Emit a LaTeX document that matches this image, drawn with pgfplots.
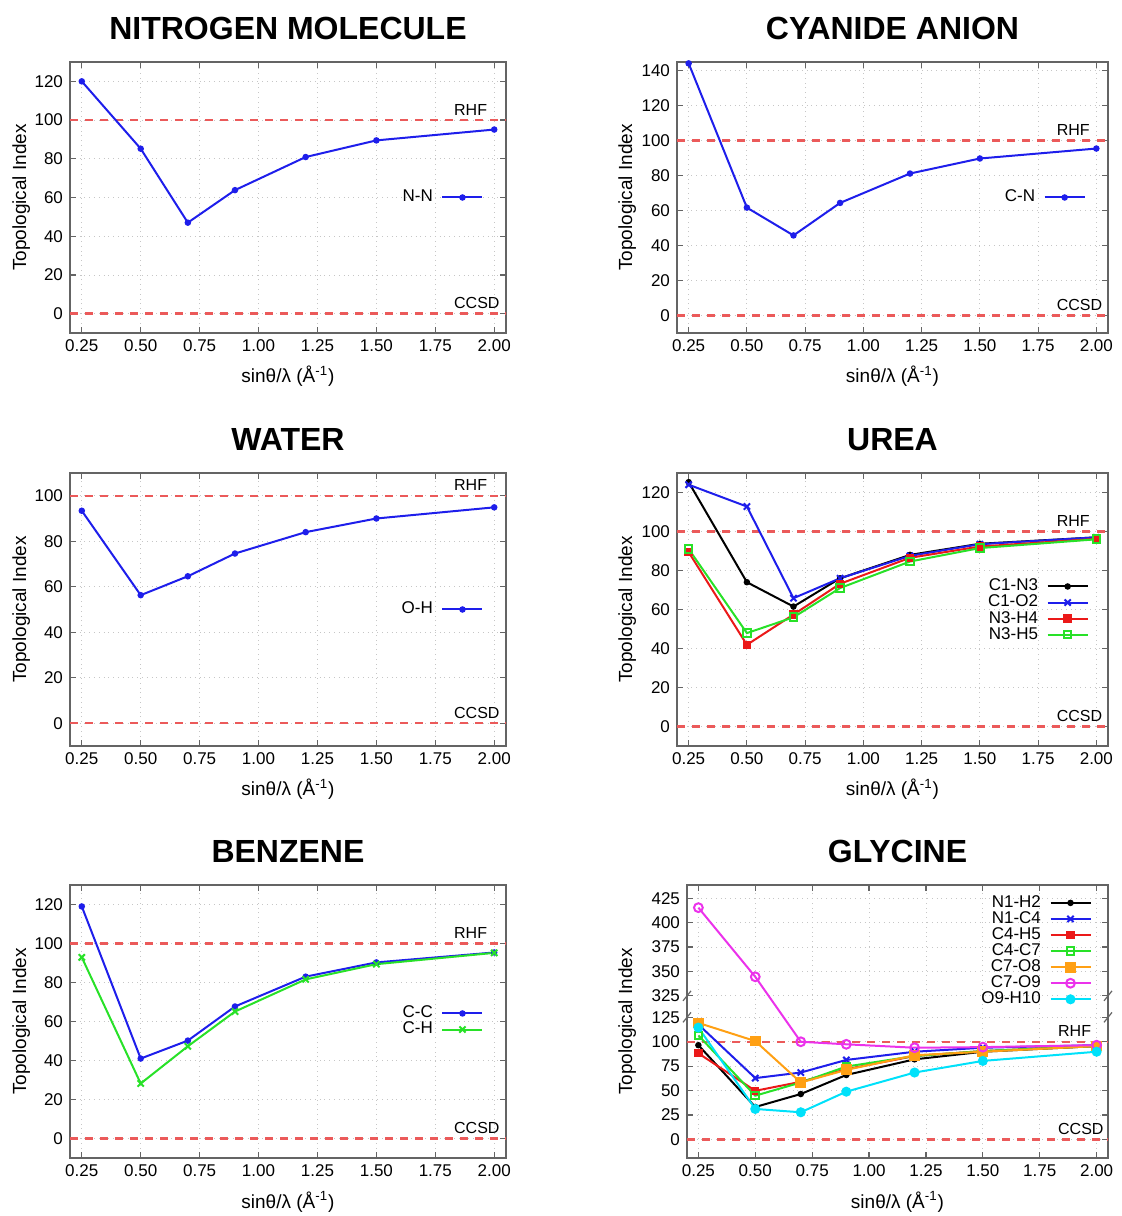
\documentclass[border=0pt]{standalone}
\usepackage{pgfplots}
\pgfplotsset{compat=1.18}
\usepackage{fontspec}
\setmainfont{Liberation Sans}
\usetikzlibrary{calc}
\definecolor{bordercol}{RGB}{100,100,100}
\definecolor{cblue}{RGB}{30,30,235}
\definecolor{cgreen}{RGB}{40,225,40}
\definecolor{cred}{RGB}{235,25,25}
\definecolor{corange}{RGB}{255,160,20}
\definecolor{cmag}{RGB}{235,50,235}
\definecolor{ccyan}{RGB}{0,225,250}
\definecolor{refred}{RGB}{235,90,90}
\pgfplotsset{
  panel/.style={
    scale only axis, anchor=south west, clip=false,
    xmin=0.2, xmax=2.05,
    xtick={0.25,0.5,0.75,1,1.25,1.5,1.75,2},
    xticklabels={0.25,0.50,0.75,1.00,1.25,1.50,1.75,2.00},
    tick align=inside, major tick length=3pt,
    grid=major, grid style={dotted, gray!45, line width=0.4pt},
    axis line style={draw=bordercol, line width=0.8pt},
    every tick/.style={draw=bordercol, line width=0.6pt},
    tick label style={font=\fontsize{8.5}{10}\selectfont},
    /pgf/number format/assume math mode=true,
    title style={at={(0.5,1)}, anchor=base, yshift=5pt, font=\fontsize{16}{18}\selectfont\bfseries},
    xlabel={sinθ/λ (Å\textsuperscript{-1})},
    xlabel style={at={(0.5,0)}, anchor=base, yshift=-25pt, font=\fontsize{9.5}{11}\selectfont},
    legend style={draw=none, fill=none, font=\fontsize{8.5}{10}\selectfont,
      legend plot pos=right, legend cell align=right, column sep=4pt,
      nodes={inner sep=0.3pt}, at={(0.963,0.5)}, anchor=east},
    legend image code/.code={\draw[mark repeat=2,mark phase=2,##1] plot coordinates {(0pt,0pt) (10pt,0pt) (20pt,0pt)};},
  },
  refline/.style={draw=refred, color=refred, line width=1.2pt, dash pattern=on 4pt off 3.5pt, forget plot},
  ser/.style={line width=1pt, mark options={solid}},
}
\newcommand{\reflabels}{%
  \node[anchor=base west, yshift=2.5pt, font=\fontsize{8}{10}\selectfont] at (axis cs:1.8,100) {RHF};
  \node[anchor=base west, yshift=2.5pt, font=\fontsize{8}{10}\selectfont] at (axis cs:1.8,0) {CCSD};
}
\newcommand{\reflines}{%
  \addplot[refline] coordinates {(0.2,100) (2.05,100)};
  \addplot[refline] coordinates {(0.2,0) (2.05,0)};
}
\begin{document}
\begin{tikzpicture}
\useasboundingbox (0,0) rectangle (561pt,608pt);
% ---------- Nitrogen ----------
\begin{axis}[panel, at={(35pt,441.5pt)}, width=218pt, height=135.5pt,
  ymin=-10, ymax=130, ytick={0,20,...,120}, title={NITROGEN MOLECULE}]
\reflines
\addplot[ser, cblue, mark=*, mark size=1.1pt] coordinates {(0.25,120)(0.5,85.2)(0.7,47)(0.9,63.8)(1.2,80.9)(1.5,89.5)(2.0,95.1)};
\addlegendentry{N-N}
\reflabels
\end{axis}
% ---------- Cyanide ----------
\begin{axis}[panel, at={(338.5pt,441.5pt)}, width=215.5pt, height=135.5pt,
  ymin=-10, ymax=145, ytick={0,20,...,140}, title={CYANIDE ANION}]
\reflines
\addplot[ser, cblue, mark=*, mark size=1.1pt] coordinates {(0.25,144.2)(0.5,61.7)(0.7,45.8)(0.9,64.4)(1.2,81.2)(1.5,89.8)(2.0,95.5)};
\addlegendentry{C-N}
\reflabels
\end{axis}
% ---------- Water ----------
\begin{axis}[panel, at={(35pt,235pt)}, width=218pt, height=136.5pt,
  ymin=-10, ymax=110, ytick={0,20,...,100}, title={WATER}]
\reflines
\addplot[ser, cblue, mark=*, mark size=1.1pt] coordinates {(0.25,93.4)(0.5,56.3)(0.7,64.6)(0.9,74.6)(1.2,84)(1.5,90)(2.0,94.9)};
\addlegendentry{O-H}
\reflabels
\end{axis}
% ---------- Urea ----------
\begin{axis}[panel, at={(338.5pt,235pt)}, width=215.5pt, height=136.5pt,
  ymin=-10, ymax=130, ytick={0,20,...,120}, title={UREA},
  legend style={at={(0.97,0.496)}}]
\reflines
\addplot[ser, black, mark=*, mark size=1.1pt] coordinates {(0.25,125.3)(0.5,74)(0.7,61.5)(0.9,76)(1.2,88)(1.5,93.7)(2.0,97)};
\addlegendentry{C1-N3}
\addplot[ser, cblue, mark=x, mark size=2.2pt] coordinates {(0.25,124)(0.5,112.8)(0.7,65.8)(0.9,76)(1.2,87.5)(1.5,93.5)(2.0,97)};
\addlegendentry{C1-O2}
\addplot[ser, cred, mark=square*, mark size=1.6pt] coordinates {(0.25,89.4)(0.5,41.9)(0.7,57.4)(0.9,73.2)(1.2,86.5)(1.5,92.3)(2.0,96.2)};
\addlegendentry{N3-H4}
\addplot[ser, cgreen, mark=square, mark size=1.9pt] coordinates {(0.25,91)(0.5,47.9)(0.7,56)(0.9,71)(1.2,84.6)(1.5,91.5)(2.0,96)};
\addlegendentry{N3-H5}
\reflabels
\end{axis}
% ---------- Benzene ----------
\begin{axis}[panel, at={(35pt,29pt)}, width=218pt, height=136.5pt,
  ymin=-10, ymax=130, ytick={0,20,...,120}, title={BENZENE}]
\reflines
\addplot[ser, cblue, mark=*, mark size=1.1pt] coordinates {(0.25,119)(0.5,41)(0.7,50.2)(0.9,67.7)(1.2,83)(1.5,90.3)(2.0,95.4)};
\addlegendentry{C-C}
\addplot[ser, cgreen, mark=x, mark size=2.2pt] coordinates {(0.25,92.9)(0.5,28.2)(0.7,47.3)(0.9,65.1)(1.2,81.6)(1.5,89.4)(2.0,95.2)};
\addlegendentry{C-H}
\reflabels
\end{axis}
% ---------- Glycine (broken axis: values above 300 plotted at value-178) ----------
\begin{axis}[panel, at={(343.5pt,29pt)}, width=210.5pt, height=136.5pt,
  ymin=-19, ymax=260.5,
  ytick={0,25,50,75,100,125,147,172,197,222,247},
  yticklabels={0,25,50,75,100,125,325,350,375,400,425},
  title={GLYCINE},
  legend style={at={(0.976,0.98)}, anchor=north east}]
\reflines
\addplot[ser, black, mark=*, mark size=1.1pt] coordinates {(0.25,96.5)(0.5,33.2)(0.7,46.5)(0.9,66)(1.2,82)(1.5,89.8)(2.0,95.6)};
\addlegendentry{N1-H2}
\addplot[ser, cblue, mark=x, mark size=2.2pt] coordinates {(0.25,117.7)(0.5,62.8)(0.7,68.5)(0.9,81.4)(1.2,89.8)(1.5,93.9)(2.0,96.5)};
\addlegendentry{N1-C4}
\addplot[ser, cred, mark=square*, mark size=1.6pt] coordinates {(0.25,88.2)(0.5,49.8)(0.7,59)(0.9,71.9)(1.2,85.4)(1.5,90.5)(2.0,95.6)};
\addlegendentry{C4-H5}
\addplot[ser, cgreen, mark=square, mark size=1.9pt] coordinates {(0.25,106.5)(0.5,44.8)(0.7,58.3)(0.9,74.6)(1.2,85.4)(1.5,90.5)(2.0,95.6)};
\addlegendentry{C4-C7}
\addplot[ser, corange, mark=square*, mark size=2.2pt] coordinates {(0.25,119.3)(0.5,100.7)(0.7,58.3)(0.9,71.2)(1.2,86.2)(1.5,89.8)(2.0,95.6)};
\addlegendentry{C7-O8}
\addplot[ser, cmag, mark=o, mark size=2.2pt] coordinates {(0.25,237.3)(0.5,166.5)(0.7,100)(0.9,97.4)(1.2,93.9)(1.5,94.5)(2.0,96.5)};
\addlegendentry{C7-O9}
\addplot[ser, ccyan, mark=*, mark size=2pt] coordinates {(0.25,114.5)(0.5,31.2)(0.7,27.8)(0.9,48.9)(1.2,68.5)(1.5,80.4)(2.0,89.8)};
\addlegendentry{O9-H10}
\reflabels
% axis break
\fill[white] ($(axis cs:0.2,126.5)+(-1.5pt,0)$) rectangle ($(axis cs:0.2,145.5)+(1.5pt,0)$);
\fill[white] ($(axis cs:2.05,126.5)+(-1.5pt,0)$) rectangle ($(axis cs:2.05,145.5)+(1.5pt,0)$);
\draw[bordercol, line width=0.6pt] ($(axis cs:0.2,125)+(-2pt,-2.5pt)$) -- ++(4pt,5pt);
\draw[bordercol, line width=0.6pt] ($(axis cs:2.05,125)+(-2pt,-2.5pt)$) -- ++(4pt,5pt);
\draw[bordercol, line width=0.6pt] ($(axis cs:0.2,147)+(-2pt,-2.5pt)$) -- ++(4pt,5pt);
\draw[bordercol, line width=0.6pt] ($(axis cs:2.05,147)+(-2pt,-2.5pt)$) -- ++(4pt,5pt);
\end{axis}
% y labels
\node[rotate=90, anchor=base, font=\fontsize{9.5}{11}\selectfont] at (13pt,509.25pt) {Topological Index};
\node[rotate=90, anchor=base, font=\fontsize{9.5}{11}\selectfont] at (316pt,509.25pt) {Topological Index};
\node[rotate=90, anchor=base, font=\fontsize{9.5}{11}\selectfont] at (13pt,303.25pt) {Topological Index};
\node[rotate=90, anchor=base, font=\fontsize{9.5}{11}\selectfont] at (316pt,303.25pt) {Topological Index};
\node[rotate=90, anchor=base, font=\fontsize{9.5}{11}\selectfont] at (13pt,97.25pt) {Topological Index};
\node[rotate=90, anchor=base, font=\fontsize{9.5}{11}\selectfont] at (316pt,97.25pt) {Topological Index};
\end{tikzpicture}
\end{document}
